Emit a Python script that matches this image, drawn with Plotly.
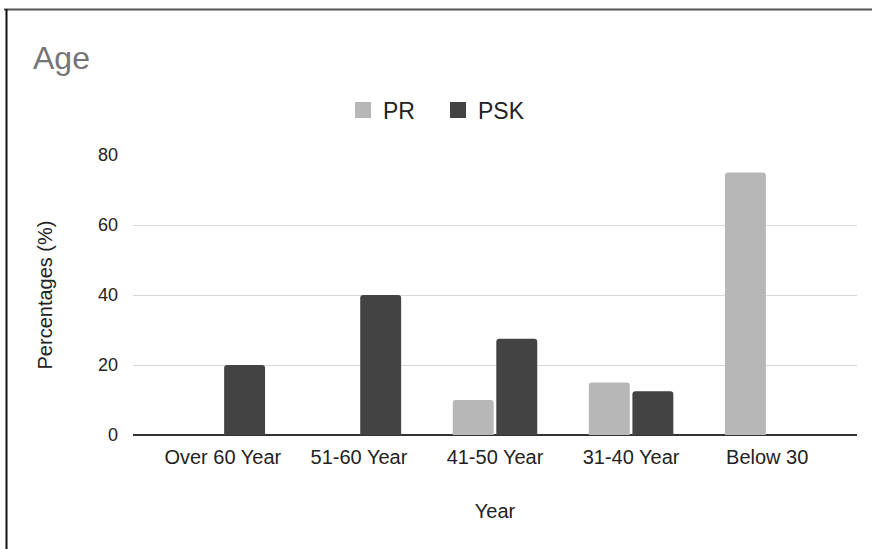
import plotly.graph_objects as go

categories = ["Over 60 Year", "51-60 Year", "41-50 Year", "31-40 Year", "Below 30"]
pr_values = [0, 0, 10, 15, 75]
psk_values = [20, 40, 27.5, 12.5, 0]
y_ticks = [0, 20, 40, 60, 80]
series_names = ["PR", "PSK"]
series_colors = ["#b7b7b7", "#434343"]

FONT = "Liberation Sans, Arial, sans-serif"
W, H = 872, 549
L, R, T, B = 133, 15, 155, 114
pw, ph = W - L - R, H - T - B

fig = go.Figure()
for name, vals, col in zip(series_names, [pr_values, psk_values], series_colors):
    fig.add_trace(go.Bar(name=name, x=categories, y=vals, showlegend=False,
                         marker=dict(color=col, line=dict(width=0))))
# legend proxies with larger square symbols
for name, col in zip(series_names, series_colors):
    fig.add_trace(go.Scatter(name=name, x=[None], y=[None], mode="markers",
                             marker=dict(symbol="square", size=20, color=col), showlegend=True))

def px_x(x):
    return (x - L) / pw

def px_y(y):
    return (H - B - y) / ph

shapes = [
    dict(type="line", xref="paper", yref="paper", x0=px_x(4), x1=px_x(872), y0=px_y(9.5), y1=px_y(9.5),
         line=dict(color="#555555", width=2)),
    dict(type="line", xref="paper", yref="paper", x0=px_x(6.5), x1=px_x(6.5), y0=px_y(9), y1=px_y(549),
         line=dict(color="#111111", width=2)),
]

fig.update_layout(
    width=W, height=H,
    margin=dict(l=L, r=R, t=T, b=B),
    paper_bgcolor="white", plot_bgcolor="white",
    font=dict(family=FONT, size=18, color="#222222"),
    title=dict(text="Age", x=33 / W, xanchor="left", xref="container",
               y=1 - 58 / H, yanchor="middle", yref="container",
               font=dict(size=32, color="#757575", family=FONT)),
    barmode="group", bargap=0.36, bargroupgap=0.06, barcornerradius=3,
    legend=dict(orientation="h", x=343 / W, xanchor="left", xref="container",
                y=1 - 110 / H, yanchor="middle", yref="container",
                font=dict(size=23, color="#222222"), itemwidth=30, traceorder="normal",
                itemsizing="trace", entrywidth=50, entrywidthmode="pixels"),
    showlegend=True,
    shapes=shapes,
)
fig.update_xaxes(range=[-0.66, 4.66], showgrid=False, showline=False, zeroline=False,
                 tickfont=dict(size=20, color="#222222"), ticks="", ticklabelstandoff=8,
                 title=dict(text="Year", font=dict(size=20, color="#222222"), standoff=36))
fig.update_yaxes(range=[0, 80], tickvals=y_ticks, showgrid=True, gridcolor="#d9d9d9", gridwidth=1,
                 zeroline=True, zerolinecolor="#333333", zerolinewidth=1.5, showline=False,
                 tickfont=dict(size=18, color="#222222"), ticks="", ticklabelstandoff=14,
                 title=dict(text="Percentages (%)", font=dict(size=20, color="#222222"), standoff=39))
fig.write_html("out.html")
